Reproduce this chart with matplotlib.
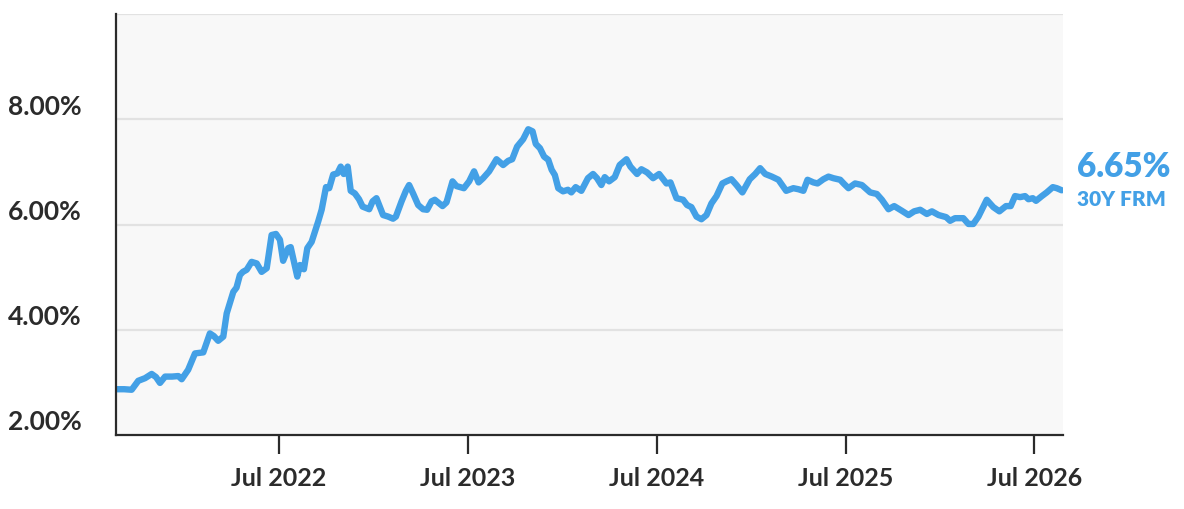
import matplotlib
matplotlib.use("Agg")
import matplotlib.pyplot as plt
import matplotlib.dates as mdates
import numpy as np
import pandas as pd

# decimal year of each observation and the 30Y FRM rate (%)
anos = [
    2021.635, 2021.674, 2021.714, 2021.749, 2021.785, 2021.820, 2021.843, 2021.864,
    2021.891, 2021.928, 2021.961, 2021.979, 2022.014, 2022.050, 2022.094, 2022.129,
    2022.150, 2022.173, 2022.200, 2022.218, 2022.253, 2022.270, 2022.288, 2022.304,
    2022.324, 2022.350, 2022.377, 2022.403, 2022.430, 2022.456, 2022.479, 2022.500,
    2022.517, 2022.544, 2022.557, 2022.592, 2022.606, 2022.627, 2022.645, 2022.668,
    2022.703, 2022.721, 2022.744, 2022.761, 2022.782, 2022.804, 2022.822, 2022.838,
    2022.859, 2022.875, 2022.897, 2022.919, 2022.938, 2022.973, 2022.991, 2023.012,
    2023.047, 2023.074, 2023.100, 2023.115, 2023.145, 2023.168, 2023.185, 2023.206,
    2023.233, 2023.259, 2023.280, 2023.304, 2023.321, 2023.362, 2023.383, 2023.415,
    2023.436, 2023.475, 2023.503, 2023.529, 2023.553, 2023.577, 2023.609, 2023.648,
    2023.683, 2023.710, 2023.731, 2023.757, 2023.789, 2023.816, 2023.839, 2023.856,
    2023.878, 2023.900, 2023.922, 2023.940, 2023.957, 2023.975, 2024.001, 2024.027,
    2024.045, 2024.068, 2024.098, 2024.133, 2024.160, 2024.181, 2024.204, 2024.222,
    2024.245, 2024.275, 2024.301, 2024.337, 2024.358, 2024.393, 2024.416, 2024.446,
    2024.478, 2024.510, 2024.549, 2024.570, 2024.602, 2024.637, 2024.658, 2024.681,
    2024.708, 2024.734, 2024.761, 2024.787, 2024.814, 2024.845, 2024.867, 2024.893,
    2024.920, 2024.951, 2024.990, 2025.017, 2025.043, 2025.070, 2025.105, 2025.140,
    2025.181, 2025.219, 2025.246, 2025.272, 2025.294, 2025.325, 2025.347, 2025.378,
    2025.405, 2025.431, 2025.467, 2025.488, 2025.511, 2025.546, 2025.582, 2025.626,
    2025.661, 2025.688, 2025.723, 2025.753, 2025.794, 2025.829, 2025.859, 2025.891,
    2025.926, 2025.953, 2025.988, 2026.029, 2026.050, 2026.076, 2026.120, 2026.147,
    2026.173, 2026.200, 2026.244, 2026.279, 2026.311, 2026.346, 2026.371, 2026.394,
    2026.421, 2026.447, 2026.465, 2026.488, 2026.505, 2026.536, 2026.562, 2026.594,
    2026.615, 2026.641,
]
taxas = [
    2.87, 2.87, 2.86, 3.03, 3.08, 3.16, 3.10, 2.99,
    3.11, 3.11, 3.12, 3.06, 3.24, 3.55, 3.57, 3.93,
    3.88, 3.79, 3.87, 4.31, 4.72, 4.80, 5.04, 5.10,
    5.14, 5.29, 5.26, 5.10, 5.17, 5.80, 5.82, 5.71,
    5.31, 5.55, 5.57, 5.01, 5.23, 5.15, 5.55, 5.67,
    6.06, 6.28, 6.71, 6.69, 6.95, 6.97, 7.10, 6.96,
    7.10, 6.64, 6.59, 6.48, 6.34, 6.29, 6.44, 6.50,
    6.18, 6.15, 6.11, 6.15, 6.44, 6.64, 6.75, 6.59,
    6.37, 6.29, 6.28, 6.44, 6.47, 6.35, 6.42, 6.82,
    6.73, 6.69, 6.82, 7.01, 6.80, 6.88, 7.01, 7.24,
    7.13, 7.21, 7.24, 7.48, 7.62, 7.81, 7.77, 7.53,
    7.45, 7.29, 7.23, 7.04, 6.94, 6.69, 6.63, 6.66,
    6.61, 6.71, 6.64, 6.88, 6.96, 6.88, 6.75, 6.90,
    6.82, 6.90, 7.13, 7.24, 7.10, 6.96, 7.05, 6.99,
    6.88, 6.96, 6.78, 6.80, 6.50, 6.47, 6.37, 6.33,
    6.15, 6.10, 6.18, 6.40, 6.54, 6.78, 6.82, 6.86,
    6.75, 6.61, 6.86, 6.96, 7.07, 6.96, 6.91, 6.85,
    6.64, 6.69, 6.67, 6.64, 6.85, 6.80, 6.78, 6.86,
    6.91, 6.88, 6.85, 6.77, 6.69, 6.78, 6.75, 6.61,
    6.58, 6.47, 6.29, 6.35, 6.26, 6.18, 6.25, 6.28,
    6.20, 6.25, 6.18, 6.14, 6.07, 6.12, 6.12, 6.01,
    6.01, 6.15, 6.47, 6.33, 6.25, 6.35, 6.35, 6.54,
    6.52, 6.54, 6.48, 6.50, 6.45, 6.54, 6.61, 6.71,
    6.69, 6.65,
]
niveis_y = [2, 4, 6, 8]
anos_ticks = [2022, 2023, 2024, 2025, 2026]
rotulo_valor = '6.65%'
rotulo_serie = '30Y FRM'

AZUL = '#43a0e6'
ESCURO = '#2b2b2b'
plt.rcParams['font.family'] = ['Lato', 'DejaVu Sans']
plt.rcParams['font.weight'] = 'bold'


def ano_para_data(a):
    base = int(a)
    return pd.Timestamp(f'{base}-01-01') + pd.Timedelta(days=(a - base) * 365.25)


datas = [ano_para_data(a) for a in anos]
inicio = ano_para_data(2021.631)
fim = ano_para_data(2026.648)

fig = plt.figure(figsize=(11.84, 5.09), dpi=100)
ax = fig.add_axes([116 / 1184, 1 - 435 / 509, (1063 - 116) / 1184, (435 - 14) / 509])
ax.set_facecolor('#f8f8f8')

for v in [4, 6, 8, 10]:
    ax.axhline(v, color='#e2e2e2', lw=1.6, zorder=1)

ax.plot(datas, taxas, color=AZUL, lw=4.6, solid_joinstyle='round', solid_capstyle='round', zorder=3)

ax.set_xlim(inicio, fim)
ax.set_ylim(2, 10)

for s in ['top', 'right']:
    ax.spines[s].set_visible(False)
for s in ['left', 'bottom']:
    ax.spines[s].set_color(ESCURO)
    ax.spines[s].set_linewidth(1.6)
    ax.spines[s].set_zorder(4)

ax.set_yticks([])
for v in niveis_y:
    ax.annotate(f'{v:.2f}%', xy=(0, v), xycoords=('axes fraction', 'data'),
                xytext=(-108, 4.5), textcoords='offset pixels',
                ha='left', va='baseline', fontsize=19, fontweight='bold', color=ESCURO)

ax.set_xticks([pd.Timestamp(f'{a}-07-01') for a in anos_ticks])
ax.xaxis.set_major_formatter(mdates.DateFormatter('%b %Y'))
ax.tick_params(axis='x', length=14, width=1.6, color=ESCURO, pad=9,
               labelsize=18, labelcolor=ESCURO)
for t in ax.get_xticklabels():
    t.set_fontweight('bold')

ax.annotate(rotulo_valor, xy=(1, taxas[-1]), xycoords=('axes fraction', 'data'),
            xytext=(14, 13), textcoords='offset pixels', ha='left', va='baseline',
            fontsize=24, fontweight='heavy', color=AZUL, annotation_clip=False)
ax.annotate(rotulo_serie, xy=(1, taxas[-1]), xycoords=('axes fraction', 'data'),
            xytext=(14, -16), textcoords='offset pixels', ha='left', va='baseline',
            fontsize=15, fontweight='heavy', color=AZUL, annotation_clip=False)

fig.savefig('out.png', dpi=100)
